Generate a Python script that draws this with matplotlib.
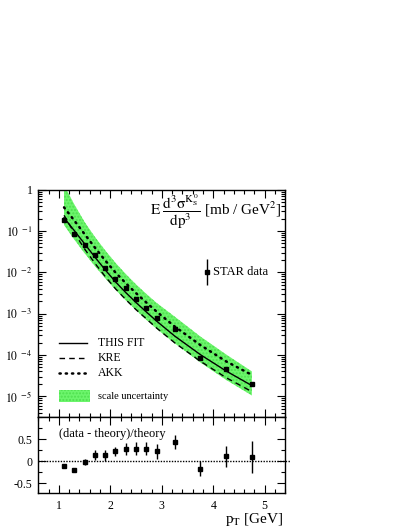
import numpy as np
import matplotlib
matplotlib.use("Agg")
import matplotlib.pyplot as plt
from matplotlib.ticker import FixedLocator, NullFormatter, LogLocator, MultipleLocator

plt.rcParams['font.family'] = ['Liberation Serif', 'DejaVu Serif']
plt.rcParams['mathtext.fontset'] = 'stix'

# STAR K0s data
pt = [1.1, 1.3, 1.5, 1.7, 1.9, 2.1, 2.3, 2.5, 2.7, 2.9, 3.25, 3.75, 4.25, 4.75]
xsec = [0.18, 0.084, 0.047, 0.026, 0.0125, 0.0071, 0.0041, 0.0023, 0.0014,
        0.00080, 0.00042, 8.4e-5, 4.6e-5, 2.0e-5]
ratio = [-0.12, -0.19, -0.02, 0.14, 0.13, 0.22, 0.28, 0.28, 0.28, 0.22,
         0.43, -0.17, 0.11, 0.10]
ratio_err = [0.03, 0.03, 0.07, 0.12, 0.13, 0.11, 0.14, 0.15, 0.15, 0.16,
             0.16, 0.17, 0.24, 0.36]

# theory curves
pt_th = [1.1, 1.3, 1.5, 1.7, 1.9, 2.1, 2.3, 2.5, 2.7, 2.9, 3.25, 3.75, 4.25, 4.75]
this_fit = [0.209, 0.102, 0.049, 0.0234, 0.0115, 0.0059, 0.00324, 0.00186,
            0.00110, 0.00066, 0.000288, 0.000102, 4.1e-5, 1.82e-5]
kre = [0.240, 0.0897, 0.0368, 0.0166, 0.00793, 0.00402, 0.00220, 0.00125,
       0.00075, 0.000449, 0.000198, 7.06e-5, 2.83e-5, 1.3e-5]
akk = [0.374, 0.179, 0.084, 0.0397, 0.0194, 0.00992, 0.00546, 0.00313,
       0.00186, 0.00112, 0.00049, 0.000174, 7.0e-5, 3.3e-5]
band_hi = [1.3, 0.44, 0.165, 0.072, 0.034, 0.0170, 0.0091, 0.0051,
           0.0030, 0.00182, 0.00085, 0.000280, 0.000103, 4.0e-5]
band_lo = [0.14, 0.062, 0.029, 0.0141, 0.0072, 0.0038, 0.0021, 0.00121,
           0.00071, 0.00043, 0.000192, 6.6e-5, 2.5e-5, 1.05e-5]

fig = plt.figure(figsize=(4.11, 5.32), dpi=100)
W, H = 411, 532
L, R = 38.3, 285.3
top1, bot1, bot2 = 189.7, 417.0, 493.0
ax1 = fig.add_axes([L / W, 1 - bot1 / H, (R - L) / W, (bot1 - top1) / H])
ax2 = fig.add_axes([L / W, 1 - bot2 / H, (R - L) / W, (bot2 - bot1) / H])

green = '#6cf56c'
hatch_col = '#4fe04f'
akk_ls = (0, (0.5, 2.0))
kre_ls = (0, (4, 3))
ax1.fill_between(pt_th, band_lo, band_hi, facecolor=green, edgecolor=hatch_col,
                 hatch='.....', linewidth=0)
ax1.plot(pt_th, this_fit, color='black', lw=1.0, ls='-')
ax1.plot(pt_th, kre, color='black', lw=1.0, ls=kre_ls)
ax1.plot(pt_th, akk, color='black', lw=1.8, ls=akk_ls, dash_capstyle='round')
ax1.errorbar(pt, xsec, yerr=[np.array(xsec) * 0.05, np.array(xsec) * 0.05],
             fmt='s', color='black', ms=3.2, elinewidth=1.0, capsize=0)

ax1.set_yscale('log')
ax1.set_xlim(0.6, 5.4)
ax1.set_ylim(10 ** -5.5, 1)
ax1.yaxis.set_major_locator(FixedLocator([1e-5, 1e-4, 1e-3, 1e-2, 1e-1, 1]))
ax1.yaxis.set_minor_locator(LogLocator(base=10, subs=np.arange(2, 10) * 1.0, numticks=20))
ax1.yaxis.set_minor_formatter(NullFormatter())
ax1.set_yticklabels([r'$10^{\ -5}$', r'$10^{\ -4}$', r'$10^{\ -3}$', r'$10^{\ -2}$',
                     r'$10^{\ -1}$', '1'])
ax1.xaxis.set_major_locator(MultipleLocator(1))
ax1.xaxis.set_minor_locator(MultipleLocator(0.2))
ax1.tick_params(axis='x', labelbottom=False)

for ax in (ax1, ax2):
    ax.tick_params(which='both', direction='in', top=True, right=True, width=0.8,
                   labelsize=8.5, pad=4)
    ax.tick_params(which='major', length=6)
    ax.tick_params(which='minor', length=3)
    for s in ax.spines.values():
        s.set_linewidth(1.0)

# legend-like annotations
T = ax1.transAxes
ax1.plot([0.085, 0.198], [0.3256, 0.3256], color='black', lw=1.0, transform=T)
ax1.plot([0.085, 0.198], [0.258, 0.258], color='black', lw=1.0, ls=kre_ls, transform=T)
ax1.plot([0.085, 0.198], [0.195, 0.195], color='black', lw=1.8, ls=akk_ls,
         dash_capstyle='round', transform=T)
ax1.add_patch(plt.Rectangle((0.085, 0.065), 0.125, 0.054, transform=T,
                            facecolor=green, edgecolor=hatch_col, hatch='.....', lw=0))
ax1.text(0.2405, 0.3256, 'THIS FIT', transform=T, va='center', fontsize=8.5)
ax1.text(0.2405, 0.258, 'KRE', transform=T, va='center', fontsize=8.5)
ax1.text(0.2405, 0.195, 'AKK', transform=T, va='center', fontsize=8.5)
ax1.text(0.2405, 0.092, 'scale uncertainty', transform=T, va='center', fontsize=7.5)

ax1.errorbar([0.682], [0.639], yerr=[0.057], fmt='s', color='black', ms=3,
             elinewidth=1.0, capsize=0, transform=T)
ax1.text(0.706, 0.639, 'STAR data', transform=T, va='center', fontsize=9)

ax1.text(0.985, 0.905,
         r'$\mathrm{E}\;\dfrac{\mathrm{d}^3\mathrm{\sigma}^{\mathrm{K}_\mathrm{S}^{\,0}}}{\mathrm{dp}^3}$ [mb / GeV$^2$]',
         transform=T, ha='right', va='center', fontsize=11)

# lower panel
ax2.errorbar(pt, ratio, yerr=ratio_err, fmt='s', color='black', ms=3.2,
             elinewidth=1.0, capsize=0)
ax2.plot([0.6, 5.5], [0, 0], color='black', lw=1.0, ls=(0, (1, 1)), clip_on=False)
ax2.set_xlim(0.6, 5.4)
ax2.set_ylim(-0.72, 1.0)
ax2.yaxis.set_major_locator(FixedLocator([-0.5, 0, 0.5]))
ax2.yaxis.set_minor_locator(MultipleLocator(0.25))
ax2.set_yticklabels(['-0.5', '0', '0.5'])
ax2.xaxis.set_major_locator(MultipleLocator(1))
ax2.xaxis.set_minor_locator(MultipleLocator(0.2))
ax2.tick_params(axis='x', pad=5)
ax2.text(0.085, 0.77, '(data - theory)/theory', transform=ax2.transAxes,
         va='center', fontsize=9)
fig.text(284 / W, 1 - 519 / H, r'p$_{\mathrm{T}}$ [GeV]', ha='right', va='center',
         fontsize=11)

fig.savefig('out.png', dpi=100)
